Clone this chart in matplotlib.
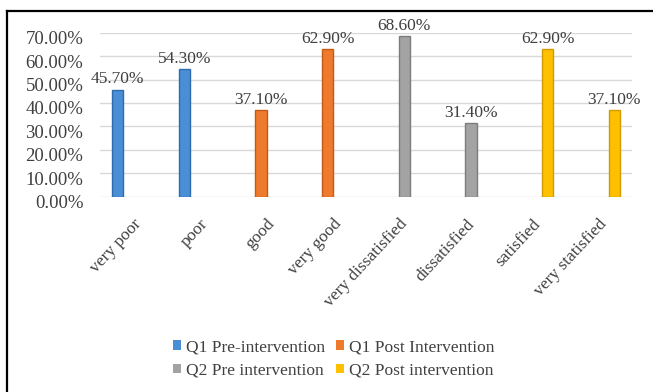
import numpy as np
import matplotlib
matplotlib.use("Agg")
import matplotlib.pyplot as plt
import matplotlib.transforms as mtransforms
from matplotlib.lines import Line2D
from matplotlib.patches import Patch

categories = ["very poor", "poor", "good", "very good", "very dissatisfied",
              "dissatisfied", "satisfied", "very statisfied"]
series_names = ["Q1 Pre-intervention", "Q1 Post Intervention",
                "Q2 Pre intervention", "Q2 Post intervention"]
nan = np.nan
q1_pre = [0.457, 0.543, nan, nan, nan, nan, nan, nan]
q1_post = [nan, nan, 0.371, 0.629, nan, nan, nan, nan]
q2_pre = [nan, nan, nan, nan, 0.686, 0.314, nan, nan]
q2_post = [nan, nan, nan, nan, nan, nan, 0.629, 0.371]
yticks = [0, 0.1, 0.2, 0.3, 0.4, 0.5, 0.6, 0.7]

colors = ["#4A8FD6", "#EE7A2E", "#A3A3A3", "#FFC000"]
edges = ["#2E6BAE", "#C25A14", "#7C7C7C", "#D19A00"]

plt.rcParams["font.family"] = ["Liberation Serif", "DejaVu Serif"]
txtcol = "#404040"

fig = plt.figure(figsize=(6.53, 3.92), dpi=100)
ax = fig.add_axes([100 / 653, 1 - 196.5 / 392, 532 / 653, (196.5 - 32.7) / 392])

x = np.arange(len(categories))
w = 0.17
all_series = [q1_pre, q1_post, q2_pre, q2_post]
for i, vals in enumerate(all_series):
    vals = np.array(vals, dtype=float)
    off = (i - 1.5) * 0.155
    ax.bar(x + off, vals, width=w, color=colors[i], edgecolor=edges[i],
           linewidth=1.0, zorder=3, label=series_names[i])
    for xi, v in zip(x + off, vals):
        if not np.isnan(v):
            ax.annotate(f"{v*100:.2f}%", (xi, v), xytext=(0, 1.5),
                        textcoords="offset points", ha="center", va="bottom",
                        fontsize=12.5, color=txtcol, zorder=4)

ax.set_xlim(-0.5, len(categories) - 0.5)
ax.set_ylim(0, 0.7)
ax.set_yticks(yticks)
ax.set_yticklabels([f"{t*100:.2f}%" for t in yticks], fontsize=13.5, color=txtcol)
ax.yaxis.grid(True, color="#D9D9D9", linewidth=1.0, zorder=0)
ax.set_axisbelow(True)
ax.tick_params(axis="y", length=0, pad=12)
ax.tick_params(axis="x", length=0, pad=14)
ax.set_xticks(x)
ax.set_xticklabels(categories, rotation=47, ha="right", rotation_mode="anchor",
                   fontsize=12.5, color=txtcol)
shift = mtransforms.ScaledTranslation(0, -5 / 100, fig.dpi_scale_trans)
for lab in ax.get_yticklabels():
    lab.set_transform(lab.get_transform() + shift)
for s in ax.spines.values():
    s.set_visible(False)

# legend in row order: Q1 Pre, Q1 Post / Q2 Pre, Q2 Post
order = [0, 2, 1, 3]
leg_handles = [Patch(facecolor=colors[k], edgecolor="none") for k in order]
leg_labels = [series_names[k] for k in order]
leg = fig.legend(handles=leg_handles, labels=leg_labels, ncol=2,
                 loc="center", bbox_to_anchor=(334 / 653, 1 - 359 / 392),
                 frameon=False, fontsize=12.5, handlelength=0.45,
                 handleheight=0.45, handletextpad=0.3, columnspacing=0.6,
                 labelspacing=0.45)
for t in leg.get_texts():
    t.set_color(txtcol)

# outer frame lines (top and left)
fig.add_artist(Line2D([6.5 / 653, 1.0], [1 - 10.5 / 392, 1 - 10.5 / 392],
                      transform=fig.transFigure, color="black", linewidth=1.6))
fig.add_artist(Line2D([6.5 / 653, 6.5 / 653], [0, 1 - 10.5 / 392],
                      transform=fig.transFigure, color="black", linewidth=1.6))

fig.savefig("out.png", dpi=100)
